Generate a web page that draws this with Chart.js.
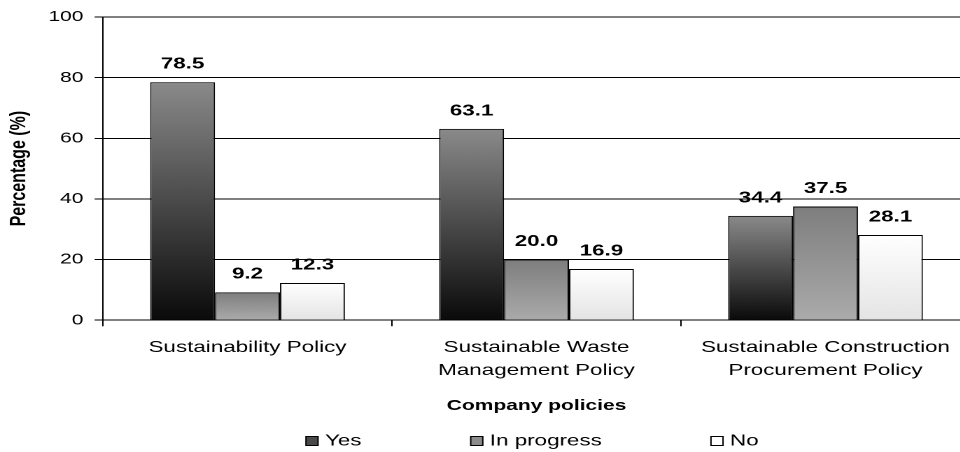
<!DOCTYPE html>
<html>
<head>
<meta charset="utf-8">
<script src="https://cdn.jsdelivr.net/npm/chart.js@4.4.1/dist/chart.umd.min.js"></script>
<style>
  html, body { margin: 0; padding: 0; background: #fff; overflow: hidden; }
</style>
</head>
<body>
<!-- drawn on a 693px wide canvas and stretched to 970px (widens the lettering);
     the page is cut at 960px so the plot runs off the right edge -->
<canvas id="policyChart" width="693" height="452" style="display:block;width:970px;height:452px"></canvas>
<script>
const categories = [
  ['Sustainability Policy'],
  ['Sustainable Waste', 'Management Policy'],
  ['Sustainable Construction', 'Procurement Policy']
];
const seriesNames = ['Yes', 'In progress', 'No'];
const yesValues = [78.5, 63.1, 34.4];
const inProgressValues = [9.2, 20.0, 37.5];
const noValues = [12.3, 16.9, 28.1];
const yTicks = [0, 20, 40, 60, 80, 100];

Chart.defaults.font.family = '"Liberation Sans", Arial, sans-serif';
Chart.defaults.color = '#000';

// vertical gradient spanning each bar, from its top down to zero
function barGradient(topColor, bottomColor) {
  return (context) => {
    const chart = context.chart;
    if (!chart.chartArea || typeof context.raw !== 'number') return topColor;
    const y = chart.scales.y;
    const top = y.getPixelForValue(context.raw);
    const base = y.getPixelForValue(0);
    const g = chart.ctx.createLinearGradient(0, top, 0, base);
    g.addColorStop(0, topColor);
    g.addColorStop(1, bottomColor);
    return g;
  };
}

const valueLabels = {
  id: 'valueLabels',
  afterDatasetsDraw(chart) {
    const ctx = chart.ctx;
    ctx.save();
    ctx.font = 'bold 16px "Liberation Sans", Arial, sans-serif';
    ctx.fillStyle = '#000';
    ctx.textAlign = 'center';
    ctx.textBaseline = 'middle';
    chart.data.datasets.forEach((ds, i) => {
      chart.getDatasetMeta(i).data.forEach((bar, j) => {
        ctx.fillText(ds.data[j].toFixed(1), bar.x, bar.y - 18);
      });
    });
    ctx.restore();
  }
};

// single row legend centred under the plot area
const legendRow = {
  id: 'legendRow',
  afterDraw(chart, args, opts) {
    const { ctx, chartArea } = chart;
    ctx.save();
    ctx.font = '16px "Liberation Sans", Arial, sans-serif';
    ctx.textBaseline = 'middle';
    ctx.textAlign = 'left';
    const items = chart.data.datasets.map(ds => ({
      text: ds.label,
      fill: ds.legendColor,
      width: opts.boxWidth + opts.boxGap + ctx.measureText(ds.label).width
    }));
    const total = items.reduce((s, it) => s + it.width, 0) + opts.gap * (items.length - 1);
    let x = (chartArea.left + chartArea.right) / 2 - total / 2 + opts.shift;
    const y = chart.height - opts.bottom;
    items.forEach(it => {
      ctx.fillStyle = it.fill;
      ctx.fillRect(x, y - opts.boxHeight / 2, opts.boxWidth, opts.boxHeight);
      ctx.lineWidth = 1;
      ctx.strokeStyle = '#000';
      ctx.strokeRect(x, y - opts.boxHeight / 2, opts.boxWidth, opts.boxHeight);
      ctx.fillStyle = '#000';
      ctx.fillText(it.text, x + opts.boxWidth + opts.boxGap, y);
      x += it.width + opts.gap;
    });
    ctx.restore();
  }
};

new Chart(document.getElementById('policyChart'), {
  type: 'bar',
  data: {
    labels: categories,
    datasets: [
      {
        label: seriesNames[0],
        data: yesValues,
        backgroundColor: barGradient('#8a8a8a', '#0a0a0a'),
        legendColor: '#4a4a4a'
      },
      {
        label: seriesNames[1],
        data: inProgressValues,
        backgroundColor: barGradient('#7e7e7e', '#ababab'),
        legendColor: '#8c8c8c'
      },
      {
        label: seriesNames[2],
        data: noValues,
        backgroundColor: barGradient('#ffffff', '#e4e4e4'),
        legendColor: '#ffffff'
      }
    ]
  },
  options: {
    responsive: false,
    devicePixelRatio: 2,
    animation: false,
    layout: {
      padding: { top: 15, right: 0, bottom: 33, left: 0 }
    },
    datasets: {
      bar: {
        categoryPercentage: 0.674,
        barPercentage: 1,
        borderColor: '#000',
        borderWidth: 1
      }
    },
    plugins: {
      legend: { display: false },
      tooltip: { enabled: false },
      legendRow: { boxWidth: 8.6, boxHeight: 9, boxGap: 5, gap: 78, bottom: 11, shift: -3 }
    },
    scales: {
      x: {
        grid: {
          offset: true,
          drawOnChartArea: false,
          color: '#000',
          tickLength: 6
        },
        border: { color: '#000', width: 1 },
        ticks: {
          color: '#000',
          font: { size: 16, lineHeight: 1.43 },
          padding: 10,
          maxRotation: 0,
          autoSkip: false
        },
        title: {
          display: true,
          text: 'Company policies',
          color: '#000',
          font: { size: 15, weight: 'bold' },
          padding: { top: 5, bottom: 4 }
        }
      },
      y: {
        min: 0,
        max: 100,
        afterBuildTicks: (scale) => {
          scale.ticks = yTicks.map(v => ({ value: v }));
        },
        afterFit: (scale) => {
          scale.width = 73.6;
        },
        grid: {
          color: '#000',
          tickLength: 6
        },
        border: { color: '#000', width: 1 },
        ticks: {
          color: '#000',
          font: { size: 15 },
          padding: 8
        },
        title: {
          display: true,
          text: 'Percentage (%)',
          color: '#000',
          font: { size: 16, weight: 'bold' },
          padding: { top: 4, bottom: 0 }
        }
      }
    }
  },
  plugins: [valueLabels, legendRow]
});
</script>
</body>
</html>
